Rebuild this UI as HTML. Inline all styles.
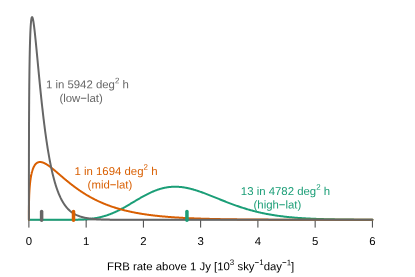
<!DOCTYPE html>
<html><head><meta charset="utf-8"><title>FRB rate</title>
<style>html,body{margin:0;padding:0;background:#fff;overflow:hidden}svg{display:block;will-change:transform}text{font-family:"Liberation Sans",sans-serif;font-size:11.4px;text-rendering:geometricPrecision}</style></head><body>
<svg width="415" height="277" viewBox="0 0 415 277">
<rect width="415" height="277" fill="#fff"/>
<g stroke="#000" stroke-width="0.75" fill="none" stroke-linecap="round">
<path d="M28.90 219.80H372.40"/>
<path d="M28.90 219.80V227.20"/>
<path d="M86.15 219.80V227.20"/>
<path d="M143.40 219.80V227.20"/>
<path d="M200.65 219.80V227.20"/>
<path d="M257.90 219.80V227.20"/>
<path d="M315.15 219.80V227.20"/>
<path d="M372.40 219.80V227.20"/>
</g>
<text transform="matrix(1,0.0005,0,1,0,-0.0144)" x="28.90" y="245.00" text-anchor="middle" fill="#000">0</text>
<text transform="matrix(1,0.0005,0,1,0,-0.0431)" x="86.15" y="245.00" text-anchor="middle" fill="#000">1</text>
<text transform="matrix(1,0.0005,0,1,0,-0.0717)" x="143.40" y="245.00" text-anchor="middle" fill="#000">2</text>
<text transform="matrix(1,0.0005,0,1,0,-0.1003)" x="200.65" y="245.00" text-anchor="middle" fill="#000">3</text>
<text transform="matrix(1,0.0005,0,1,0,-0.1289)" x="257.90" y="245.00" text-anchor="middle" fill="#000">4</text>
<text transform="matrix(1,0.0005,0,1,0,-0.1576)" x="315.15" y="245.00" text-anchor="middle" fill="#000">5</text>
<text transform="matrix(1,0.0005,0,1,0,-0.1862)" x="372.40" y="245.00" text-anchor="middle" fill="#000">6</text>
<path d="M28.90 219.80L28.90 219.80L28.90 219.80L28.90 219.80L28.90 219.80L28.90 219.80L28.90 219.80L28.90 219.80L28.90 219.80L28.91 219.80L28.91 219.80L28.91 219.80L28.91 219.80L28.91 219.80L28.92 219.80L28.92 219.80L28.92 219.80L28.93 219.80L28.93 219.80L28.93 219.80L28.94 219.80L28.94 219.80L28.95 219.80L28.95 219.80L28.96 219.80L28.96 219.80L28.97 219.80L28.98 219.80L28.98 219.80L28.99 219.80L29.00 219.80L29.01 219.80L29.01 219.80L29.02 219.80L29.03 219.80L29.04 219.80L29.05 219.80L29.06 219.80L29.07 219.80L29.08 219.80L29.10 219.80L29.11 219.80L29.12 219.80L29.13 219.80L29.15 219.80L29.16 219.80L29.17 219.80L29.19 219.80L29.20 219.80L29.22 219.80L29.23 219.80L29.25 219.80L29.27 219.80L29.28 219.80L29.30 219.80L29.32 219.80L29.34 219.80L29.36 219.80L29.38 219.80L29.40 219.80L29.42 219.80L29.44 219.80L29.46 219.80L29.48 219.80L29.50 219.80L29.53 219.80L29.55 219.80L29.57 219.80L29.60 219.80L29.62 219.80L29.65 219.80L29.67 219.80L29.70 219.80L29.73 219.80L29.75 219.80L29.78 219.80L29.81 219.80L29.84 219.80L29.87 219.80L29.90 219.80L29.93 219.80L29.96 219.80L29.99 219.80L30.03 219.80L30.06 219.80L30.09 219.80L30.13 219.80L30.16 219.80L30.20 219.80L30.23 219.80L30.27 219.80L30.30 219.80L30.34 219.80L30.38 219.80L30.42 219.80L30.46 219.80L30.50 219.80L30.54 219.80L30.58 219.80L30.62 219.80L30.66 219.80L30.70 219.80L30.75 219.80L30.79 219.80L30.83 219.80L30.88 219.80L30.93 219.80L30.97 219.80L31.02 219.80L31.07 219.80L31.11 219.80L31.16 219.80L31.21 219.80L31.26 219.80L31.31 219.80L31.36 219.80L31.41 219.80L31.47 219.80L31.52 219.80L31.57 219.80L31.63 219.80L31.68 219.80L31.74 219.80L31.79 219.80L31.85 219.80L31.91 219.80L31.97 219.80L32.03 219.80L32.08 219.80L32.14 219.80L32.21 219.80L32.27 219.80L32.33 219.80L32.39 219.80L32.45 219.80L32.52 219.80L32.58 219.80L32.65 219.80L32.71 219.80L32.78 219.80L32.85 219.80L32.92 219.80L32.99 219.80L33.05 219.80L33.12 219.80L33.20 219.80L33.27 219.80L33.34 219.80L33.41 219.80L33.49 219.80L33.56 219.80L33.63 219.80L33.71 219.80L33.79 219.80L33.86 219.80L33.94 219.80L34.02 219.80L34.10 219.80L34.18 219.80L34.26 219.80L34.34 219.80L34.42 219.80L34.51 219.80L34.59 219.80L34.67 219.80L34.76 219.80L34.84 219.80L34.93 219.80L35.02 219.80L35.10 219.80L35.19 219.80L35.28 219.80L35.37 219.80L35.46 219.80L35.55 219.80L35.65 219.80L35.74 219.80L35.83 219.80L35.93 219.80L36.02 219.80L36.12 219.80L36.21 219.80L36.31 219.80L36.41 219.80L36.51 219.80L36.61 219.80L36.71 219.80L36.81 219.80L36.91 219.80L37.01 219.80L37.12 219.80L37.22 219.80L37.33 219.80L37.43 219.80L37.54 219.80L37.65 219.80L37.75 219.80L37.86 219.80L37.97 219.80L38.08 219.80L38.19 219.80L38.31 219.80L38.42 219.80L38.53 219.80L38.65 219.80L38.76 219.80L38.88 219.80L38.99 219.80L39.11 219.80L39.23 219.80L39.35 219.80L39.47 219.80L39.59 219.80L39.71 219.80L39.83 219.80L39.96 219.80L40.08 219.80L40.20 219.80L40.33 219.80L40.46 219.80L40.58 219.80L40.71 219.80L40.84 219.80L40.97 219.80L41.10 219.80L41.23 219.80L41.36 219.80L41.50 219.80L41.63 219.80L41.76 219.80L41.90 219.80L42.03 219.80L42.17 219.80L42.31 219.80L42.45 219.80L42.59 219.80L42.73 219.80L42.87 219.80L43.01 219.80L43.15 219.80L43.30 219.80L43.44 219.80L43.59 219.80L43.73 219.80L43.88 219.80L44.03 219.80L44.18 219.80L44.32 219.80L44.48 219.80L44.63 219.80L44.78 219.80L44.93 219.80L45.08 219.80L45.24 219.80L45.39 219.80L45.55 219.80L45.71 219.80L45.87 219.80L46.03 219.80L46.18 219.80L46.35 219.80L46.51 219.80L46.67 219.80L46.83 219.80L47.00 219.80L47.16 219.80L47.33 219.80L47.49 219.80L47.66 219.80L47.83 219.80L48.00 219.80L48.17 219.80L48.34 219.80L48.51 219.80L48.69 219.80L48.86 219.80L49.03 219.80L49.21 219.80L49.39 219.80L49.56 219.80L49.74 219.80L49.92 219.80L50.10 219.80L50.28 219.80L50.46 219.80L50.65 219.80L50.83 219.80L51.01 219.80L51.20 219.80L51.39 219.80L51.57 219.80L51.76 219.80L51.95 219.80L52.14 219.80L52.33 219.80L52.52 219.80L52.71 219.80L52.91 219.80L53.10 219.80L53.30 219.80L53.49 219.80L53.69 219.80L53.89 219.80L54.09 219.80L54.29 219.80L54.49 219.80L54.69 219.80L54.89 219.80L55.10 219.80L55.30 219.80L55.51 219.80L55.71 219.80L55.92 219.80L56.13 219.80L56.34 219.80L56.55 219.80L56.76 219.80L56.97 219.80L57.19 219.80L57.40 219.80L57.61 219.80L57.83 219.80L58.05 219.80L58.27 219.80L58.48 219.80L58.70 219.80L58.92 219.80L59.15 219.80L59.37 219.80L59.59 219.80L59.82 219.80L60.04 219.80L60.27 219.80L60.49 219.80L60.72 219.80L60.95 219.80L61.18 219.80L61.41 219.80L61.64 219.80L61.88 219.80L62.11 219.79L62.35 219.79L62.58 219.79L62.82 219.79L63.06 219.79L63.30 219.79L63.54 219.79L63.78 219.79L64.02 219.79L64.26 219.79L64.50 219.79L64.75 219.79L65.00 219.79L65.24 219.79L65.49 219.79L65.74 219.79L65.99 219.79L66.24 219.78L66.49 219.78L66.74 219.78L67.00 219.78L67.25 219.78L67.51 219.78L67.76 219.78L68.02 219.78L68.28 219.77L68.54 219.77L68.80 219.77L69.06 219.77L69.32 219.77L69.58 219.77L69.85 219.76L70.11 219.76L70.38 219.76L70.65 219.76L70.92 219.75L71.19 219.75L71.46 219.75L71.73 219.75L72.00 219.74L72.27 219.74L72.55 219.74L72.82 219.73L73.10 219.73L73.38 219.73L73.66 219.72L73.94 219.72L74.22 219.71L74.50 219.71L74.78 219.70L75.06 219.70L75.35 219.69L75.63 219.69L75.92 219.68L76.21 219.67L76.50 219.67L76.79 219.66L77.08 219.65L77.37 219.65L77.66 219.64L77.96 219.63L78.25 219.62L78.55 219.61L78.84 219.60L79.14 219.59L79.44 219.58L79.74 219.57L80.04 219.56L80.34 219.55L80.65 219.54L80.95 219.53L81.26 219.51L81.56 219.50L81.87 219.49L82.18 219.47L82.49 219.46L82.80 219.44L83.11 219.42L83.42 219.41L83.74 219.39L84.05 219.37L84.37 219.35L84.68 219.33L85.00 219.31L85.32 219.29L85.64 219.27L85.96 219.24L86.28 219.22L86.60 219.19L86.93 219.17L87.25 219.14L87.58 219.11L87.91 219.08L88.24 219.06L88.57 219.02L88.90 218.99L89.23 218.96L89.56 218.93L89.89 218.89L90.23 218.85L90.56 218.82L90.90 218.78L91.24 218.74L91.58 218.70L91.92 218.65L92.26 218.61L92.60 218.56L92.94 218.52L93.29 218.47L93.63 218.42L93.98 218.37L94.33 218.31L94.68 218.26L95.03 218.20L95.38 218.14L95.73 218.08L96.08 218.02L96.44 217.96L96.79 217.89L97.15 217.83L97.51 217.76L97.86 217.69L98.22 217.61L98.58 217.54L98.95 217.46L99.31 217.38L99.67 217.30L100.04 217.22L100.40 217.14L100.77 217.05L101.14 216.96L101.51 216.87L101.88 216.77L102.25 216.68L102.62 216.58L103.00 216.48L103.37 216.38L103.75 216.27L104.13 216.16L104.50 216.05L104.88 215.94L105.26 215.82L105.65 215.70L106.03 215.58L106.41 215.46L106.80 215.33L107.18 215.21L107.57 215.07L107.96 214.94L108.35 214.80L108.74 214.66L109.13 214.52L109.52 214.38L109.92 214.23L110.31 214.08L110.71 213.93L111.11 213.77L111.50 213.61L111.90 213.45L112.30 213.28L112.71 213.12L113.11 212.95L113.51 212.77L113.92 212.60L114.32 212.42L114.73 212.24L115.14 212.05L115.55 211.86L115.96 211.67L116.37 211.48L116.78 211.29L117.20 211.09L117.61 210.89L118.03 210.68L118.45 210.48L118.87 210.27L119.29 210.05L119.71 209.84L120.13 209.62L120.55 209.40L120.98 209.18L121.40 208.95L121.83 208.73L122.26 208.50L122.69 208.26L123.12 208.03L123.55 207.79L123.98 207.55L124.41 207.31L124.85 207.07L125.28 206.82L125.72 206.57L126.16 206.32L126.60 206.07L127.04 205.82L127.48 205.56L127.92 205.31L128.37 205.05L128.81 204.79L129.26 204.52L129.71 204.26L130.16 203.99L130.61 203.73L131.06 203.46L131.51 203.19L131.96 202.92L132.42 202.65L132.87 202.38L133.33 202.11L133.79 201.83L134.25 201.56L134.71 201.28L135.17 201.01L135.63 200.73L136.09 200.46L136.56 200.18L137.02 199.91L137.49 199.63L137.96 199.36L138.43 199.08L138.90 198.81L139.37 198.53L139.85 198.26L140.32 197.98L140.80 197.71L141.27 197.44L141.75 197.17L142.23 196.90L142.71 196.63L143.19 196.37L143.67 196.10L144.16 195.84L144.64 195.58L145.13 195.32L145.62 195.06L146.11 194.80L146.60 194.55L147.09 194.30L147.58 194.05L148.07 193.80L148.57 193.55L149.06 193.31L149.56 193.07L150.06 192.84L150.56 192.61L151.06 192.38L151.56 192.15L152.06 191.93L152.57 191.71L153.07 191.49L153.58 191.28L154.09 191.07L154.59 190.86L155.10 190.66L155.62 190.47L156.13 190.27L156.64 190.09L157.16 189.90L157.67 189.72L158.19 189.55L158.71 189.38L159.23 189.21L159.75 189.05L160.27 188.89L160.80 188.74L161.32 188.60L161.85 188.45L162.37 188.32L162.90 188.19L163.43 188.06L163.96 187.94L164.49 187.83L165.03 187.72L165.56 187.61L166.10 187.51L166.64 187.42L167.17 187.33L167.71 187.25L168.25 187.18L168.80 187.11L169.34 187.04L169.88 186.98L170.43 186.93L170.97 186.88L171.52 186.84L172.07 186.81L172.62 186.78L173.17 186.76L173.73 186.74L174.28 186.73L174.84 186.72L175.39 186.72L175.95 186.73L176.51 186.74L177.07 186.76L177.63 186.78L178.19 186.81L178.76 186.85L179.32 186.89L179.89 186.93L180.46 186.99L181.03 187.05L181.60 187.11L182.17 187.18L182.74 187.26L183.31 187.34L183.89 187.42L184.47 187.52L185.04 187.61L185.62 187.72L186.20 187.82L186.78 187.94L187.37 188.06L187.95 188.18L188.54 188.31L189.12 188.44L189.71 188.58L190.30 188.72L190.89 188.87L191.48 189.02L192.07 189.18L192.67 189.34L193.26 189.51L193.86 189.68L194.46 189.85L195.06 190.03L195.66 190.22L196.26 190.40L196.86 190.59L197.46 190.79L198.07 190.99L198.68 191.19L199.28 191.39L199.89 191.60L200.50 191.82L201.12 192.03L201.73 192.25L202.34 192.47L202.96 192.69L203.58 192.92L204.19 193.15L204.81 193.38L205.43 193.62L206.06 193.85L206.68 194.09L207.30 194.34L207.93 194.58L208.56 194.82L209.18 195.07L209.81 195.32L210.44 195.57L211.08 195.82L211.71 196.08L212.34 196.33L212.98 196.59L213.62 196.84L214.26 197.10L214.90 197.36L215.54 197.62L216.18 197.88L216.82 198.14L217.47 198.41L218.11 198.67L218.76 198.93L219.41 199.19L220.06 199.46L220.71 199.72L221.36 199.98L222.02 200.24L222.67 200.51L223.33 200.77L223.99 201.03L224.65 201.29L225.31 201.55L225.97 201.81L226.63 202.07L227.30 202.33L227.96 202.59L228.63 202.84L229.30 203.10L229.97 203.35L230.64 203.61L231.31 203.86L231.98 204.11L232.66 204.36L233.34 204.61L234.01 204.85L234.69 205.10L235.37 205.34L236.05 205.58L236.74 205.82L237.42 206.06L238.10 206.30L238.79 206.53L239.48 206.76L240.17 206.99L240.86 207.22L241.55 207.45L242.24 207.67L242.94 207.90L243.63 208.12L244.33 208.33L245.03 208.55L245.73 208.76L246.43 208.97L247.13 209.18L247.84 209.39L248.54 209.59L249.25 209.80L249.96 210.00L250.66 210.19L251.37 210.39L252.09 210.58L252.80 210.77L253.51 210.96L254.23 211.14L254.95 211.33L255.66 211.51L256.38 211.68L257.10 211.86L257.83 212.03L258.55 212.20L259.28 212.37L260.00 212.53L260.73 212.70L261.46 212.86L262.19 213.01L262.92 213.17L263.65 213.32L264.39 213.47L265.12 213.62L265.86 213.76L266.60 213.91L267.34 214.05L268.08 214.18L268.82 214.32L269.56 214.45L270.31 214.58L271.06 214.71L271.80 214.84L272.55 214.96L273.30 215.08L274.06 215.20L274.81 215.32L275.56 215.43L276.32 215.54L277.08 215.65L277.83 215.76L278.59 215.87L279.35 215.97L280.12 216.07L280.88 216.17L281.65 216.27L282.41 216.36L283.18 216.46L283.95 216.55L284.72 216.64L285.49 216.73L286.27 216.81L287.04 216.89L287.82 216.98L288.59 217.06L289.37 217.13L290.15 217.21L290.93 217.28L291.72 217.36L292.50 217.43L293.29 217.50L294.07 217.56L294.86 217.63L295.65 217.69L296.44 217.76L297.24 217.82L298.03 217.88L298.83 217.94L299.62 217.99L300.42 218.05L301.22 218.10L302.02 218.15L302.82 218.20L303.62 218.25L304.43 218.30L305.24 218.35L306.04 218.40L306.85 218.44L307.66 218.48L308.47 218.53L309.29 218.57L310.10 218.61L310.92 218.65L311.73 218.68L312.55 218.72L313.37 218.76L314.19 218.79L315.02 218.82L315.84 218.86L316.67 218.89L317.49 218.92L318.32 218.95L319.15 218.98L319.98 219.01L320.81 219.03L321.65 219.06L322.48 219.09L323.32 219.11L324.16 219.13L325.00 219.16L325.84 219.18L326.68 219.20L327.52 219.22L328.37 219.24L329.21 219.26L330.06 219.28L330.91 219.30L331.76 219.32L332.61 219.34L333.47 219.36L334.32 219.37L335.18 219.39L336.03 219.40L336.89 219.42L337.75 219.43L338.61 219.45L339.48 219.46L340.34 219.47L341.21 219.48L342.08 219.50L342.94 219.51L343.81 219.52L344.69 219.53L345.56 219.54L346.43 219.55L347.31 219.56L348.19 219.57L349.06 219.58L349.94 219.59L350.82 219.60L351.71 219.60L352.59 219.61L353.48 219.62L354.36 219.63L355.25 219.63L356.14 219.64L357.03 219.65L357.93 219.65L358.82 219.66L359.72 219.67L360.61 219.67L361.51 219.68L362.41 219.68L363.31 219.69L364.21 219.69L365.12 219.70L366.02 219.70L366.93 219.70L367.84 219.71L368.75 219.71L369.66 219.72L370.57 219.72L371.48 219.72L372.40 219.73" fill="none" stroke="#1B9E77" stroke-width="2" stroke-linejoin="round" stroke-linecap="round"/>
<path d="M28.90 219.80L28.90 218.71L28.90 217.89L28.90 217.16L28.90 216.48L28.90 215.83L28.90 215.21L28.90 214.61L28.90 214.02L28.91 213.45L28.91 212.89L28.91 212.35L28.91 211.81L28.91 211.28L28.92 210.76L28.92 210.25L28.92 209.75L28.93 209.25L28.93 208.75L28.93 208.27L28.94 207.79L28.94 207.31L28.95 206.84L28.95 206.37L28.96 205.91L28.96 205.45L28.97 204.99L28.98 204.54L28.98 204.10L28.99 203.65L29.00 203.21L29.01 202.78L29.01 202.34L29.02 201.91L29.03 201.49L29.04 201.06L29.05 200.64L29.06 200.22L29.07 199.81L29.08 199.39L29.10 198.98L29.11 198.57L29.12 198.17L29.13 197.77L29.15 197.37L29.16 196.97L29.17 196.57L29.19 196.18L29.20 195.79L29.22 195.40L29.23 195.02L29.25 194.63L29.27 194.25L29.28 193.87L29.30 193.49L29.32 193.12L29.34 192.75L29.36 192.38L29.38 192.01L29.40 191.64L29.42 191.28L29.44 190.92L29.46 190.56L29.48 190.20L29.50 189.85L29.53 189.49L29.55 189.14L29.57 188.79L29.60 188.45L29.62 188.10L29.65 187.76L29.67 187.42L29.70 187.08L29.73 186.74L29.75 186.41L29.78 186.08L29.81 185.75L29.84 185.42L29.87 185.09L29.90 184.77L29.93 184.45L29.96 184.13L29.99 183.81L30.03 183.49L30.06 183.18L30.09 182.87L30.13 182.56L30.16 182.25L30.20 181.95L30.23 181.64L30.27 181.34L30.30 181.04L30.34 180.75L30.38 180.45L30.42 180.16L30.46 179.87L30.50 179.58L30.54 179.30L30.58 179.01L30.62 178.73L30.66 178.45L30.70 178.17L30.75 177.90L30.79 177.62L30.83 177.35L30.88 177.08L30.93 176.82L30.97 176.55L31.02 176.29L31.07 176.03L31.11 175.77L31.16 175.52L31.21 175.26L31.26 175.01L31.31 174.76L31.36 174.52L31.41 174.27L31.47 174.03L31.52 173.79L31.57 173.55L31.63 173.32L31.68 173.09L31.74 172.86L31.79 172.63L31.85 172.40L31.91 172.18L31.97 171.96L32.03 171.74L32.08 171.52L32.14 171.31L32.21 171.09L32.27 170.88L32.33 170.68L32.39 170.47L32.45 170.27L32.52 170.07L32.58 169.87L32.65 169.68L32.71 169.48L32.78 169.29L32.85 169.10L32.92 168.92L32.99 168.73L33.05 168.55L33.12 168.37L33.20 168.20L33.27 168.02L33.34 167.85L33.41 167.68L33.49 167.52L33.56 167.35L33.63 167.19L33.71 167.03L33.79 166.88L33.86 166.72L33.94 166.57L34.02 166.42L34.10 166.27L34.18 166.13L34.26 165.99L34.34 165.85L34.42 165.71L34.51 165.58L34.59 165.44L34.67 165.31L34.76 165.19L34.84 165.06L34.93 164.94L35.02 164.82L35.10 164.70L35.19 164.59L35.28 164.48L35.37 164.37L35.46 164.26L35.55 164.16L35.65 164.06L35.74 163.96L35.83 163.86L35.93 163.76L36.02 163.67L36.12 163.58L36.21 163.50L36.31 163.41L36.41 163.33L36.51 163.25L36.61 163.17L36.71 163.10L36.81 163.03L36.91 162.96L37.01 162.89L37.12 162.83L37.22 162.76L37.33 162.71L37.43 162.65L37.54 162.59L37.65 162.54L37.75 162.49L37.86 162.45L37.97 162.40L38.08 162.36L38.19 162.32L38.31 162.28L38.42 162.25L38.53 162.22L38.65 162.19L38.76 162.16L38.88 162.13L38.99 162.11L39.11 162.09L39.23 162.07L39.35 162.06L39.47 162.05L39.59 162.04L39.71 162.03L39.83 162.02L39.96 162.02L40.08 162.02L40.20 162.02L40.33 162.02L40.46 162.03L40.58 162.04L40.71 162.05L40.84 162.06L40.97 162.08L41.10 162.10L41.23 162.12L41.36 162.14L41.50 162.17L41.63 162.19L41.76 162.22L41.90 162.26L42.03 162.29L42.17 162.33L42.31 162.37L42.45 162.41L42.59 162.45L42.73 162.49L42.87 162.54L43.01 162.59L43.15 162.64L43.30 162.70L43.44 162.76L43.59 162.81L43.73 162.87L43.88 162.94L44.03 163.00L44.18 163.07L44.32 163.14L44.48 163.21L44.63 163.28L44.78 163.36L44.93 163.44L45.08 163.52L45.24 163.60L45.39 163.68L45.55 163.77L45.71 163.85L45.87 163.94L46.03 164.04L46.18 164.13L46.35 164.22L46.51 164.32L46.67 164.42L46.83 164.52L47.00 164.63L47.16 164.73L47.33 164.84L47.49 164.95L47.66 165.06L47.83 165.17L48.00 165.28L48.17 165.40L48.34 165.52L48.51 165.64L48.69 165.76L48.86 165.88L49.03 166.01L49.21 166.13L49.39 166.26L49.56 166.39L49.74 166.52L49.92 166.65L50.10 166.79L50.28 166.93L50.46 167.06L50.65 167.20L50.83 167.34L51.01 167.49L51.20 167.63L51.39 167.78L51.57 167.92L51.76 168.07L51.95 168.22L52.14 168.37L52.33 168.53L52.52 168.68L52.71 168.84L52.91 168.99L53.10 169.15L53.30 169.31L53.49 169.47L53.69 169.63L53.89 169.80L54.09 169.96L54.29 170.13L54.49 170.30L54.69 170.47L54.89 170.64L55.10 170.81L55.30 170.98L55.51 171.15L55.71 171.33L55.92 171.50L56.13 171.68L56.34 171.86L56.55 172.04L56.76 172.22L56.97 172.40L57.19 172.58L57.40 172.76L57.61 172.95L57.83 173.13L58.05 173.32L58.27 173.50L58.48 173.69L58.70 173.88L58.92 174.07L59.15 174.26L59.37 174.45L59.59 174.64L59.82 174.83L60.04 175.03L60.27 175.22L60.49 175.42L60.72 175.61L60.95 175.81L61.18 176.01L61.41 176.20L61.64 176.40L61.88 176.60L62.11 176.80L62.35 177.00L62.58 177.20L62.82 177.41L63.06 177.61L63.30 177.81L63.54 178.01L63.78 178.22L64.02 178.42L64.26 178.63L64.50 178.83L64.75 179.04L65.00 179.24L65.24 179.45L65.49 179.66L65.74 179.86L65.99 180.07L66.24 180.28L66.49 180.49L66.74 180.69L67.00 180.90L67.25 181.11L67.51 181.32L67.76 181.53L68.02 181.74L68.28 181.95L68.54 182.16L68.80 182.37L69.06 182.58L69.32 182.79L69.58 183.00L69.85 183.21L70.11 183.42L70.38 183.63L70.65 183.84L70.92 184.06L71.19 184.27L71.46 184.48L71.73 184.69L72.00 184.90L72.27 185.11L72.55 185.32L72.82 185.53L73.10 185.74L73.38 185.95L73.66 186.16L73.94 186.38L74.22 186.59L74.50 186.80L74.78 187.01L75.06 187.22L75.35 187.43L75.63 187.64L75.92 187.84L76.21 188.05L76.50 188.26L76.79 188.47L77.08 188.68L77.37 188.89L77.66 189.09L77.96 189.30L78.25 189.51L78.55 189.72L78.84 189.92L79.14 190.13L79.44 190.33L79.74 190.54L80.04 190.74L80.34 190.95L80.65 191.15L80.95 191.36L81.26 191.56L81.56 191.76L81.87 191.97L82.18 192.17L82.49 192.37L82.80 192.57L83.11 192.77L83.42 192.97L83.74 193.17L84.05 193.37L84.37 193.57L84.68 193.76L85.00 193.96L85.32 194.16L85.64 194.35L85.96 194.55L86.28 194.74L86.60 194.94L86.93 195.13L87.25 195.33L87.58 195.52L87.91 195.71L88.24 195.90L88.57 196.09L88.90 196.28L89.23 196.47L89.56 196.66L89.89 196.85L90.23 197.03L90.56 197.22L90.90 197.41L91.24 197.59L91.58 197.77L91.92 197.96L92.26 198.14L92.60 198.32L92.94 198.50L93.29 198.68L93.63 198.86L93.98 199.04L94.33 199.22L94.68 199.40L95.03 199.57L95.38 199.75L95.73 199.92L96.08 200.10L96.44 200.27L96.79 200.44L97.15 200.62L97.51 200.79L97.86 200.96L98.22 201.13L98.58 201.29L98.95 201.46L99.31 201.63L99.67 201.79L100.04 201.96L100.40 202.12L100.77 202.28L101.14 202.45L101.51 202.61L101.88 202.77L102.25 202.93L102.62 203.09L103.00 203.24L103.37 203.40L103.75 203.56L104.13 203.71L104.50 203.87L104.88 204.02L105.26 204.17L105.65 204.32L106.03 204.48L106.41 204.62L106.80 204.77L107.18 204.92L107.57 205.07L107.96 205.21L108.35 205.36L108.74 205.50L109.13 205.65L109.52 205.79L109.92 205.93L110.31 206.07L110.71 206.21L111.11 206.35L111.50 206.49L111.90 206.62L112.30 206.76L112.71 206.89L113.11 207.03L113.51 207.16L113.92 207.29L114.32 207.43L114.73 207.56L115.14 207.69L115.55 207.81L115.96 207.94L116.37 208.07L116.78 208.19L117.20 208.32L117.61 208.44L118.03 208.57L118.45 208.69L118.87 208.81L119.29 208.93L119.71 209.05L120.13 209.17L120.55 209.28L120.98 209.40L121.40 209.52L121.83 209.63L122.26 209.74L122.69 209.86L123.12 209.97L123.55 210.08L123.98 210.19L124.41 210.30L124.85 210.41L125.28 210.52L125.72 210.62L126.16 210.73L126.60 210.83L127.04 210.94L127.48 211.04L127.92 211.14L128.37 211.24L128.81 211.34L129.26 211.44L129.71 211.54L130.16 211.64L130.61 211.74L131.06 211.83L131.51 211.93L131.96 212.02L132.42 212.12L132.87 212.21L133.33 212.30L133.79 212.39L134.25 212.48L134.71 212.57L135.17 212.66L135.63 212.75L136.09 212.84L136.56 212.92L137.02 213.01L137.49 213.09L137.96 213.18L138.43 213.26L138.90 213.34L139.37 213.42L139.85 213.50L140.32 213.58L140.80 213.66L141.27 213.74L141.75 213.82L142.23 213.89L142.71 213.97L143.19 214.05L143.67 214.12L144.16 214.19L144.64 214.27L145.13 214.34L145.62 214.41L146.11 214.48L146.60 214.55L147.09 214.62L147.58 214.69L148.07 214.76L148.57 214.82L149.06 214.89L149.56 214.96L150.06 215.02L150.56 215.09L151.06 215.15L151.56 215.21L152.06 215.27L152.57 215.34L153.07 215.40L153.58 215.46L154.09 215.52L154.59 215.58L155.10 215.63L155.62 215.69L156.13 215.75L156.64 215.81L157.16 215.86L157.67 215.92L158.19 215.97L158.71 216.02L159.23 216.08L159.75 216.13L160.27 216.18L160.80 216.23L161.32 216.28L161.85 216.33L162.37 216.38L162.90 216.43L163.43 216.48L163.96 216.53L164.49 216.58L165.03 216.62L165.56 216.67L166.10 216.72L166.64 216.76L167.17 216.81L167.71 216.85L168.25 216.89L168.80 216.94L169.34 216.98L169.88 217.02L170.43 217.06L170.97 217.10L171.52 217.14L172.07 217.18L172.62 217.22L173.17 217.26L173.73 217.30L174.28 217.34L174.84 217.38L175.39 217.41L175.95 217.45L176.51 217.48L177.07 217.52L177.63 217.56L178.19 217.59L178.76 217.62L179.32 217.66L179.89 217.69L180.46 217.72L181.03 217.76L181.60 217.79L182.17 217.82L182.74 217.85L183.31 217.88L183.89 217.91L184.47 217.94L185.04 217.97L185.62 218.00L186.20 218.03L186.78 218.06L187.37 218.09L187.95 218.11L188.54 218.14L189.12 218.17L189.71 218.19L190.30 218.22L190.89 218.25L191.48 218.27L192.07 218.30L192.67 218.32L193.26 218.35L193.86 218.37L194.46 218.39L195.06 218.42L195.66 218.44L196.26 218.46L196.86 218.48L197.46 218.51L198.07 218.53L198.68 218.55L199.28 218.57L199.89 218.59L200.50 218.61L201.12 218.63L201.73 218.65L202.34 218.67L202.96 218.69L203.58 218.71L204.19 218.73L204.81 218.75L205.43 218.76L206.06 218.78L206.68 218.80L207.30 218.82L207.93 218.83L208.56 218.85L209.18 218.87L209.81 218.88L210.44 218.90L211.08 218.92L211.71 218.93L212.34 218.95L212.98 218.96L213.62 218.98L214.26 218.99L214.90 219.01L215.54 219.02L216.18 219.03L216.82 219.05L217.47 219.06L218.11 219.07L218.76 219.09L219.41 219.10L220.06 219.11L220.71 219.13L221.36 219.14L222.02 219.15L222.67 219.16L223.33 219.17L223.99 219.19L224.65 219.20L225.31 219.21L225.97 219.22L226.63 219.23L227.30 219.24L227.96 219.25L228.63 219.26L229.30 219.27L229.97 219.28L230.64 219.29L231.31 219.30L231.98 219.31L232.66 219.32L233.34 219.33L234.01 219.34L234.69 219.35L235.37 219.35L236.05 219.36L236.74 219.37L237.42 219.38L238.10 219.39L238.79 219.40L239.48 219.40L240.17 219.41L240.86 219.42L241.55 219.43L242.24 219.43L242.94 219.44L243.63 219.45L244.33 219.45L245.03 219.46L245.73 219.47L246.43 219.47L247.13 219.48L247.84 219.49L248.54 219.49L249.25 219.50L249.96 219.51L250.66 219.51L251.37 219.52L252.09 219.52L252.80 219.53L253.51 219.53L254.23 219.54L254.95 219.54L255.66 219.55L256.38 219.55L257.10 219.56L257.83 219.56L258.55 219.57L259.28 219.57L260.00 219.58L260.73 219.58L261.46 219.59L262.19 219.59L262.92 219.60L263.65 219.60L264.39 219.60L265.12 219.61L265.86 219.61L266.60 219.62L267.34 219.62L268.08 219.62L268.82 219.63L269.56 219.63L270.31 219.63L271.06 219.64L271.80 219.64L272.55 219.64L273.30 219.65L274.06 219.65L274.81 219.65L275.56 219.66L276.32 219.66L277.08 219.66L277.83 219.67L278.59 219.67L279.35 219.67L280.12 219.68L280.88 219.68L281.65 219.68L282.41 219.68L283.18 219.69L283.95 219.69L284.72 219.69L285.49 219.69L286.27 219.70L287.04 219.70L287.82 219.70L288.59 219.70L289.37 219.70L290.15 219.71L290.93 219.71L291.72 219.71L292.50 219.71L293.29 219.71L294.07 219.72L294.86 219.72L295.65 219.72L296.44 219.72L297.24 219.72L298.03 219.73L298.83 219.73L299.62 219.73L300.42 219.73L301.22 219.73L302.02 219.73L302.82 219.73L303.62 219.74L304.43 219.74L305.24 219.74L306.04 219.74L306.85 219.74L307.66 219.74L308.47 219.74L309.29 219.75L310.10 219.75L310.92 219.75L311.73 219.75L312.55 219.75L313.37 219.75L314.19 219.75L315.02 219.75L315.84 219.76L316.67 219.76L317.49 219.76L318.32 219.76L319.15 219.76L319.98 219.76L320.81 219.76L321.65 219.76L322.48 219.76L323.32 219.76L324.16 219.76L325.00 219.77L325.84 219.77L326.68 219.77L327.52 219.77L328.37 219.77L329.21 219.77L330.06 219.77L330.91 219.77L331.76 219.77L332.61 219.77L333.47 219.77L334.32 219.77L335.18 219.77L336.03 219.77L336.89 219.78L337.75 219.78L338.61 219.78L339.48 219.78L340.34 219.78L341.21 219.78L342.08 219.78L342.94 219.78L343.81 219.78L344.69 219.78L345.56 219.78L346.43 219.78L347.31 219.78L348.19 219.78L349.06 219.78L349.94 219.78L350.82 219.78L351.71 219.78L352.59 219.78L353.48 219.78L354.36 219.79L355.25 219.79L356.14 219.79L357.03 219.79L357.93 219.79L358.82 219.79L359.72 219.79L360.61 219.79L361.51 219.79L362.41 219.79L363.31 219.79L364.21 219.79L365.12 219.79L366.02 219.79L366.93 219.79L367.84 219.79L368.75 219.79L369.66 219.79L370.57 219.79L371.48 219.79L372.40 219.79" fill="none" stroke="#D95F02" stroke-width="2" stroke-linejoin="round" stroke-linecap="round"/>
<path d="M28.90 219.80L28.90 213.97L28.90 209.64L28.90 205.75L28.90 202.11L28.90 198.66L28.90 195.34L28.90 192.13L28.90 189.02L28.91 185.98L28.91 183.01L28.91 180.10L28.91 177.25L28.91 174.45L28.92 171.69L28.92 168.98L28.92 166.30L28.93 163.66L28.93 161.06L28.93 158.49L28.94 155.95L28.94 153.44L28.95 150.96L28.95 148.51L28.96 146.08L28.96 143.68L28.97 141.31L28.98 138.95L28.98 136.63L28.99 134.33L29.00 132.05L29.01 129.79L29.01 127.56L29.02 125.34L29.03 123.15L29.04 120.98L29.05 118.84L29.06 116.71L29.07 114.61L29.08 112.52L29.10 110.46L29.11 108.42L29.12 106.40L29.13 104.40L29.15 102.42L29.16 100.46L29.17 98.52L29.19 96.60L29.20 94.70L29.22 92.83L29.23 90.97L29.25 89.14L29.27 87.32L29.28 85.53L29.30 83.76L29.32 82.01L29.34 80.28L29.36 78.57L29.38 76.89L29.40 75.22L29.42 73.58L29.44 71.95L29.46 70.35L29.48 68.78L29.50 67.22L29.53 65.69L29.55 64.17L29.57 62.68L29.60 61.22L29.62 59.77L29.65 58.35L29.67 56.95L29.70 55.57L29.73 54.22L29.75 52.89L29.78 51.58L29.81 50.29L29.84 49.03L29.87 47.80L29.90 46.58L29.93 45.39L29.96 44.22L29.99 43.08L30.03 41.96L30.06 40.87L30.09 39.80L30.13 38.75L30.16 37.73L30.20 36.73L30.23 35.75L30.27 34.81L30.30 33.88L30.34 32.98L30.38 32.10L30.42 31.25L30.46 30.43L30.50 29.63L30.54 28.85L30.58 28.10L30.62 27.37L30.66 26.67L30.70 25.99L30.75 25.34L30.79 24.71L30.83 24.11L30.88 23.53L30.93 22.98L30.97 22.46L31.02 21.95L31.07 21.48L31.11 21.02L31.16 20.60L31.21 20.20L31.26 19.82L31.31 19.47L31.36 19.14L31.41 18.84L31.47 18.56L31.52 18.31L31.57 18.08L31.63 17.88L31.68 17.70L31.74 17.54L31.79 17.41L31.85 17.31L31.91 17.22L31.97 17.17L32.03 17.13L32.08 17.12L32.14 17.14L32.21 17.17L32.27 17.23L32.33 17.32L32.39 17.43L32.45 17.56L32.52 17.71L32.58 17.89L32.65 18.09L32.71 18.31L32.78 18.55L32.85 18.82L32.92 19.11L32.99 19.42L33.05 19.75L33.12 20.11L33.20 20.48L33.27 20.88L33.34 21.29L33.41 21.73L33.49 22.19L33.56 22.67L33.63 23.17L33.71 23.69L33.79 24.23L33.86 24.79L33.94 25.37L34.02 25.96L34.10 26.58L34.18 27.21L34.26 27.87L34.34 28.54L34.42 29.23L34.51 29.93L34.59 30.66L34.67 31.40L34.76 32.15L34.84 32.93L34.93 33.72L35.02 34.53L35.10 35.35L35.19 36.19L35.28 37.04L35.37 37.91L35.46 38.79L35.55 39.69L35.65 40.60L35.74 41.53L35.83 42.47L35.93 43.42L36.02 44.38L36.12 45.36L36.21 46.35L36.31 47.36L36.41 48.37L36.51 49.40L36.61 50.44L36.71 51.48L36.81 52.54L36.91 53.61L37.01 54.69L37.12 55.78L37.22 56.88L37.33 57.99L37.43 59.11L37.54 60.23L37.65 61.36L37.75 62.51L37.86 63.66L37.97 64.81L38.08 65.98L38.19 67.15L38.31 68.33L38.42 69.51L38.53 70.70L38.65 71.89L38.76 73.09L38.88 74.30L38.99 75.51L39.11 76.73L39.23 77.94L39.35 79.17L39.47 80.39L39.59 81.62L39.71 82.86L39.83 84.09L39.96 85.33L40.08 86.57L40.20 87.81L40.33 89.06L40.46 90.30L40.58 91.55L40.71 92.80L40.84 94.05L40.97 95.29L41.10 96.54L41.23 97.79L41.36 99.04L41.50 100.29L41.63 101.53L41.76 102.78L41.90 104.02L42.03 105.27L42.17 106.51L42.31 107.75L42.45 108.98L42.59 110.22L42.73 111.45L42.87 112.68L43.01 113.90L43.15 115.12L43.30 116.34L43.44 117.56L43.59 118.77L43.73 119.97L43.88 121.18L44.03 122.37L44.18 123.57L44.32 124.75L44.48 125.94L44.63 127.12L44.78 128.29L44.93 129.45L45.08 130.61L45.24 131.77L45.39 132.92L45.55 134.06L45.71 135.20L45.87 136.33L46.03 137.45L46.18 138.57L46.35 139.68L46.51 140.78L46.67 141.87L46.83 142.96L47.00 144.04L47.16 145.12L47.33 146.18L47.49 147.24L47.66 148.29L47.83 149.33L48.00 150.37L48.17 151.39L48.34 152.41L48.51 153.42L48.69 154.42L48.86 155.41L49.03 156.40L49.21 157.37L49.39 158.34L49.56 159.30L49.74 160.25L49.92 161.19L50.10 162.12L50.28 163.04L50.46 163.96L50.65 164.86L50.83 165.76L51.01 166.64L51.20 167.52L51.39 168.39L51.57 169.25L51.76 170.10L51.95 170.94L52.14 171.77L52.33 172.60L52.52 173.41L52.71 174.21L52.91 175.01L53.10 175.79L53.30 176.57L53.49 177.34L53.69 178.10L53.89 178.84L54.09 179.58L54.29 180.31L54.49 181.04L54.69 181.75L54.89 182.45L55.10 183.14L55.30 183.83L55.51 184.50L55.71 185.17L55.92 185.83L56.13 186.48L56.34 187.12L56.55 187.75L56.76 188.37L56.97 188.98L57.19 189.59L57.40 190.18L57.61 190.77L57.83 191.35L58.05 191.92L58.27 192.48L58.48 193.03L58.70 193.58L58.92 194.11L59.15 194.64L59.37 195.16L59.59 195.67L59.82 196.18L60.04 196.67L60.27 197.16L60.49 197.64L60.72 198.11L60.95 198.58L61.18 199.03L61.41 199.48L61.64 199.92L61.88 200.36L62.11 200.78L62.35 201.20L62.58 201.61L62.82 202.02L63.06 202.42L63.30 202.81L63.54 203.19L63.78 203.57L64.02 203.94L64.26 204.30L64.50 204.65L64.75 205.00L65.00 205.35L65.24 205.68L65.49 206.01L65.74 206.34L65.99 206.66L66.24 206.97L66.49 207.27L66.74 207.57L67.00 207.87L67.25 208.16L67.51 208.44L67.76 208.72L68.02 208.99L68.28 209.25L68.54 209.51L68.80 209.77L69.06 210.02L69.32 210.26L69.58 210.50L69.85 210.74L70.11 210.97L70.38 211.19L70.65 211.41L70.92 211.63L71.19 211.84L71.46 212.04L71.73 212.25L72.00 212.44L72.27 212.64L72.55 212.82L72.82 213.01L73.10 213.19L73.38 213.37L73.66 213.54L73.94 213.71L74.22 213.87L74.50 214.03L74.78 214.19L75.06 214.34L75.35 214.49L75.63 214.64L75.92 214.78L76.21 214.92L76.50 215.05L76.79 215.19L77.08 215.32L77.37 215.44L77.66 215.57L77.96 215.69L78.25 215.80L78.55 215.92L78.84 216.03L79.14 216.14L79.44 216.24L79.74 216.35L80.04 216.45L80.34 216.55L80.65 216.64L80.95 216.73L81.26 216.83L81.56 216.91L81.87 217.00L82.18 217.08L82.49 217.17L82.80 217.24L83.11 217.32L83.42 217.40L83.74 217.47L84.05 217.54L84.37 217.61L84.68 217.68L85.00 217.74L85.32 217.81L85.64 217.87L85.96 217.93L86.28 217.99L86.60 218.05L86.93 218.10L87.25 218.16L87.58 218.21L87.91 218.26L88.24 218.31L88.57 218.36L88.90 218.40L89.23 218.45L89.56 218.49L89.89 218.53L90.23 218.58L90.56 218.62L90.90 218.65L91.24 218.69L91.58 218.73L91.92 218.77L92.26 218.80L92.60 218.83L92.94 218.87L93.29 218.90L93.63 218.93L93.98 218.96L94.33 218.99L94.68 219.01L95.03 219.04L95.38 219.07L95.73 219.09L96.08 219.12L96.44 219.14L96.79 219.16L97.15 219.19L97.51 219.21L97.86 219.23L98.22 219.25L98.58 219.27L98.95 219.29L99.31 219.31L99.67 219.32L100.04 219.34L100.40 219.36L100.77 219.37L101.14 219.39L101.51 219.40L101.88 219.42L102.25 219.43L102.62 219.45L103.00 219.46L103.37 219.47L103.75 219.48L104.13 219.49L104.50 219.51L104.88 219.52L105.26 219.53L105.65 219.54L106.03 219.55L106.41 219.56L106.80 219.57L107.18 219.58L107.57 219.58L107.96 219.59L108.35 219.60L108.74 219.61L109.13 219.62L109.52 219.62L109.92 219.63L110.31 219.64L110.71 219.64L111.11 219.65L111.50 219.65L111.90 219.66L112.30 219.67L112.71 219.67L113.11 219.68L113.51 219.68L113.92 219.69L114.32 219.69L114.73 219.70L115.14 219.70L115.55 219.70L115.96 219.71L116.37 219.71L116.78 219.71L117.20 219.72L117.61 219.72L118.03 219.72L118.45 219.73L118.87 219.73L119.29 219.73L119.71 219.74L120.13 219.74L120.55 219.74L120.98 219.74L121.40 219.75L121.83 219.75L122.26 219.75L122.69 219.75L123.12 219.76L123.55 219.76L123.98 219.76L124.41 219.76L124.85 219.76L125.28 219.76L125.72 219.77L126.16 219.77L126.60 219.77L127.04 219.77L127.48 219.77L127.92 219.77L128.37 219.77L128.81 219.77L129.26 219.78L129.71 219.78L130.16 219.78L130.61 219.78L131.06 219.78L131.51 219.78L131.96 219.78L132.42 219.78L132.87 219.78L133.33 219.78L133.79 219.78L134.25 219.79L134.71 219.79L135.17 219.79L135.63 219.79L136.09 219.79L136.56 219.79L137.02 219.79L137.49 219.79L137.96 219.79L138.43 219.79L138.90 219.79L139.37 219.79L139.85 219.79L140.32 219.79L140.80 219.79L141.27 219.79L141.75 219.79L142.23 219.79L142.71 219.79L143.19 219.79L143.67 219.79L144.16 219.79L144.64 219.79L145.13 219.80L145.62 219.80L146.11 219.80L146.60 219.80L147.09 219.80L147.58 219.80L148.07 219.80L148.57 219.80L149.06 219.80L149.56 219.80L150.06 219.80L150.56 219.80L151.06 219.80L151.56 219.80L152.06 219.80L152.57 219.80L153.07 219.80L153.58 219.80L154.09 219.80L154.59 219.80L155.10 219.80L155.62 219.80L156.13 219.80L156.64 219.80L157.16 219.80L157.67 219.80L158.19 219.80L158.71 219.80L159.23 219.80L159.75 219.80L160.27 219.80L160.80 219.80L161.32 219.80L161.85 219.80L162.37 219.80L162.90 219.80L163.43 219.80L163.96 219.80L164.49 219.80L165.03 219.80L165.56 219.80L166.10 219.80L166.64 219.80L167.17 219.80L167.71 219.80L168.25 219.80L168.80 219.80L169.34 219.80L169.88 219.80L170.43 219.80L170.97 219.80L171.52 219.80L172.07 219.80L172.62 219.80L173.17 219.80L173.73 219.80L174.28 219.80L174.84 219.80L175.39 219.80L175.95 219.80L176.51 219.80L177.07 219.80L177.63 219.80L178.19 219.80L178.76 219.80L179.32 219.80L179.89 219.80L180.46 219.80L181.03 219.80L181.60 219.80L182.17 219.80L182.74 219.80L183.31 219.80L183.89 219.80L184.47 219.80L185.04 219.80L185.62 219.80L186.20 219.80L186.78 219.80L187.37 219.80L187.95 219.80L188.54 219.80L189.12 219.80L189.71 219.80L190.30 219.80L190.89 219.80L191.48 219.80L192.07 219.80L192.67 219.80L193.26 219.80L193.86 219.80L194.46 219.80L195.06 219.80L195.66 219.80L196.26 219.80L196.86 219.80L197.46 219.80L198.07 219.80L198.68 219.80L199.28 219.80L199.89 219.80L200.50 219.80L201.12 219.80L201.73 219.80L202.34 219.80L202.96 219.80L203.58 219.80L204.19 219.80L204.81 219.80L205.43 219.80L206.06 219.80L206.68 219.80L207.30 219.80L207.93 219.80L208.56 219.80L209.18 219.80L209.81 219.80L210.44 219.80L211.08 219.80L211.71 219.80L212.34 219.80L212.98 219.80L213.62 219.80L214.26 219.80L214.90 219.80L215.54 219.80L216.18 219.80L216.82 219.80L217.47 219.80L218.11 219.80L218.76 219.80L219.41 219.80L220.06 219.80L220.71 219.80L221.36 219.80L222.02 219.80L222.67 219.80L223.33 219.80L223.99 219.80L224.65 219.80L225.31 219.80L225.97 219.80L226.63 219.80L227.30 219.80L227.96 219.80L228.63 219.80L229.30 219.80L229.97 219.80L230.64 219.80L231.31 219.80L231.98 219.80L232.66 219.80L233.34 219.80L234.01 219.80L234.69 219.80L235.37 219.80L236.05 219.80L236.74 219.80L237.42 219.80L238.10 219.80L238.79 219.80L239.48 219.80L240.17 219.80L240.86 219.80L241.55 219.80L242.24 219.80L242.94 219.80L243.63 219.80L244.33 219.80L245.03 219.80L245.73 219.80L246.43 219.80L247.13 219.80L247.84 219.80L248.54 219.80L249.25 219.80L249.96 219.80L250.66 219.80L251.37 219.80L252.09 219.80L252.80 219.80L253.51 219.80L254.23 219.80L254.95 219.80L255.66 219.80L256.38 219.80L257.10 219.80L257.83 219.80L258.55 219.80L259.28 219.80L260.00 219.80L260.73 219.80L261.46 219.80L262.19 219.80L262.92 219.80L263.65 219.80L264.39 219.80L265.12 219.80L265.86 219.80L266.60 219.80L267.34 219.80L268.08 219.80L268.82 219.80L269.56 219.80L270.31 219.80L271.06 219.80L271.80 219.80L272.55 219.80L273.30 219.80L274.06 219.80L274.81 219.80L275.56 219.80L276.32 219.80L277.08 219.80L277.83 219.80L278.59 219.80L279.35 219.80L280.12 219.80L280.88 219.80L281.65 219.80L282.41 219.80L283.18 219.80L283.95 219.80L284.72 219.80L285.49 219.80L286.27 219.80L287.04 219.80L287.82 219.80L288.59 219.80L289.37 219.80L290.15 219.80L290.93 219.80L291.72 219.80L292.50 219.80L293.29 219.80L294.07 219.80L294.86 219.80L295.65 219.80L296.44 219.80L297.24 219.80L298.03 219.80L298.83 219.80L299.62 219.80L300.42 219.80L301.22 219.80L302.02 219.80L302.82 219.80L303.62 219.80L304.43 219.80L305.24 219.80L306.04 219.80L306.85 219.80L307.66 219.80L308.47 219.80L309.29 219.80L310.10 219.80L310.92 219.80L311.73 219.80L312.55 219.80L313.37 219.80L314.19 219.80L315.02 219.80L315.84 219.80L316.67 219.80L317.49 219.80L318.32 219.80L319.15 219.80L319.98 219.80L320.81 219.80L321.65 219.80L322.48 219.80L323.32 219.80L324.16 219.80L325.00 219.80L325.84 219.80L326.68 219.80L327.52 219.80L328.37 219.80L329.21 219.80L330.06 219.80L330.91 219.80L331.76 219.80L332.61 219.80L333.47 219.80L334.32 219.80L335.18 219.80L336.03 219.80L336.89 219.80L337.75 219.80L338.61 219.80L339.48 219.80L340.34 219.80L341.21 219.80L342.08 219.80L342.94 219.80L343.81 219.80L344.69 219.80L345.56 219.80L346.43 219.80L347.31 219.80L348.19 219.80L349.06 219.80L349.94 219.80L350.82 219.80L351.71 219.80L352.59 219.80L353.48 219.80L354.36 219.80L355.25 219.80L356.14 219.80L357.03 219.80L357.93 219.80L358.82 219.80L359.72 219.80L360.61 219.80L361.51 219.80L362.41 219.80L363.31 219.80L364.21 219.80L365.12 219.80L366.02 219.80L366.93 219.80L367.84 219.80L368.75 219.80L369.66 219.80L370.57 219.80L371.48 219.80L372.40 219.80" fill="none" stroke="#666666" stroke-width="2" stroke-linejoin="round" stroke-linecap="round"/>
<path d="M186.94 220.30V211.60" stroke="#1B9E77" stroke-width="3.5" stroke-linecap="round" fill="none"/>
<path d="M73.51 220.30V211.60" stroke="#D95F02" stroke-width="3.5" stroke-linecap="round" fill="none"/>
<path d="M41.62 220.30V211.60" stroke="#666666" stroke-width="3.5" stroke-linecap="round" fill="none"/>
<text transform="matrix(1,0.0005,0,1,0,-0.0229)" x="45.90" y="88.30" fill="#666666">1 in 5942 deg<tspan dy="-5.2" font-size="7.98px">2</tspan><tspan dy="5.2"> h</tspan></text>
<text transform="matrix(1,0.0005,0,1,0,-0.0297)" x="59.40" y="102.10" fill="#666666">(low−lat)</text>
<text transform="matrix(1,0.0005,0,1,0,-0.0372)" x="74.50" y="174.90" fill="#D95F02">1 in 1694 deg<tspan dy="-5.2" font-size="7.98px">2</tspan><tspan dy="5.2"> h</tspan></text>
<text transform="matrix(1,0.0005,0,1,0,-0.0438)" x="87.60" y="188.50" fill="#D95F02">(mid−lat)</text>
<text transform="matrix(1,0.0005,0,1,0,-0.1204)" x="240.80" y="195.00" fill="#1B9E77">13 in 4782 deg<tspan dy="-5.2" font-size="7.98px">2</tspan><tspan dy="5.2"> h</tspan></text>
<text transform="matrix(1,0.0005,0,1,0,-0.1268)" x="253.50" y="208.40" fill="#1B9E77">(high−lat)</text>
<text transform="matrix(1,0.0005,0,1,0,-0.1003)" x="200.65" y="270.30" text-anchor="middle" fill="#000">FRB rate above 1 Jy [10<tspan dy="-5.2" font-size="7.98px">3</tspan><tspan dy="5.2"> sky</tspan><tspan dy="-5.2" font-size="7.98px">−1</tspan><tspan dy="5.2">day</tspan><tspan dy="-5.2" font-size="7.98px">−1</tspan><tspan dy="5.2">]</tspan></text>
</svg></body></html>
